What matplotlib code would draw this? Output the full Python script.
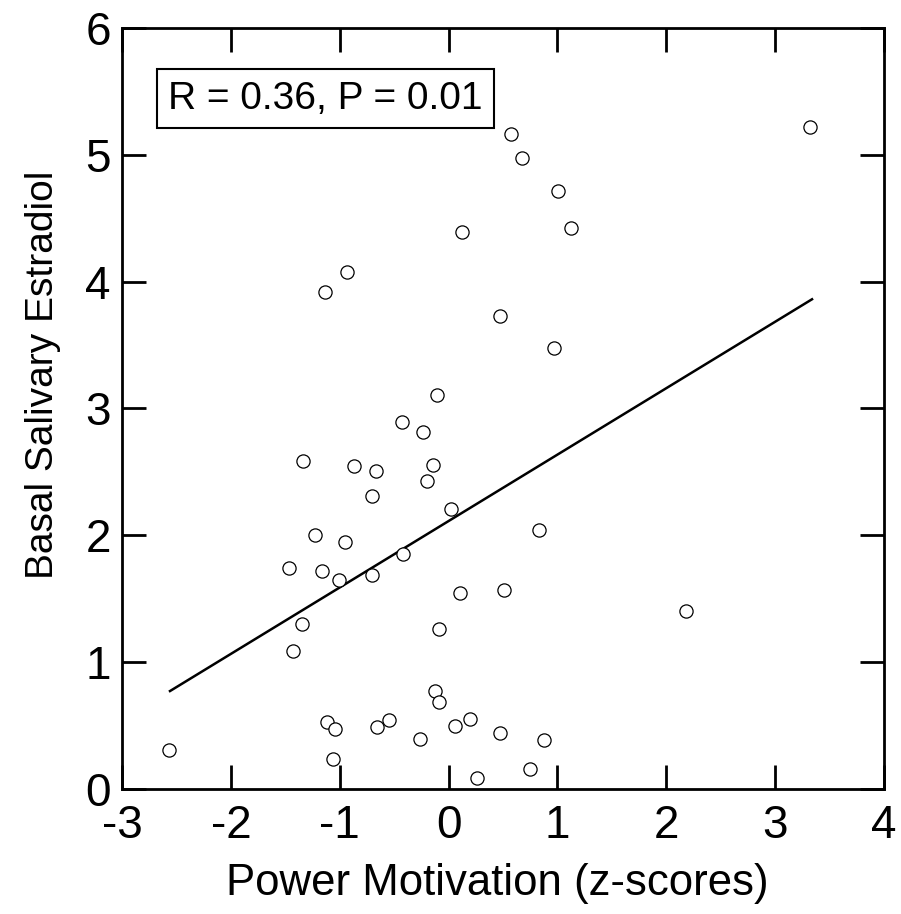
"""
Power motivation vs basal salivary estradiol scatter
"""
import matplotlib
matplotlib.use('Agg')
import matplotlib.pyplot as plt

plt.rcParams['font.family'] = ['Liberation Sans', 'DejaVu Sans']

# data
power_z = [0.127, -0.931, -1.133, 0.572, 0.679, 1.001, 1.123, 0.474, 0.970, 3.324,
           -0.104, -0.432, -0.233, -1.335, -0.872, -0.668, -0.145, -0.202, -0.701, 0.024,
           -1.225, -0.949, -0.420, -1.467, -1.166, -1.010, -0.704, 0.104, -0.089, -1.347,
           -1.427, 0.835, 0.511, 2.182, -2.566, -1.118, -1.044, -1.059, -0.656, -0.551,
           -0.129, -0.086, -0.266, 0.055, 0.193, 0.257, 0.477, 0.875, 0.747]
estradiol = [4.39, 4.077, 3.919, 5.161, 4.978, 4.718, 4.421, 3.727, 3.473, 5.219,
             3.110, 2.892, 2.811, 2.587, 2.548, 2.508, 2.558, 2.427, 2.309, 2.206,
             2.002, 1.946, 1.852, 1.744, 1.715, 1.649, 1.689, 1.547, 1.258, 1.300,
             1.090, 2.044, 1.572, 1.406, 0.305, 0.531, 0.473, 0.234, 0.489, 0.541,
             0.770, 0.683, 0.392, 0.496, 0.552, 0.084, 0.444, 0.384, 0.160]
fit_x = [-2.559, 3.339]
fit_y = [0.772, 3.861]
x_ticks = [-3, -2, -1, 0, 1, 2, 3, 4]
y_ticks = [0, 1, 2, 3, 4, 5, 6]
stats_label = 'R = 0.36, P = 0.01'

fig = plt.figure(figsize=(9.01, 9.14), dpi=100)
ax = fig.add_axes([0.1354, 0.1368, 0.8457, 0.8326])

ax.plot(fit_x, fit_y, color='black', lw=1.8, zorder=2)
ax.plot(power_z, estradiol, 'o', ms=9.5, mfc='white', mec='black', mew=0.9,
        linestyle='none', zorder=3)

ax.set_xlim(-3, 4)
ax.set_ylim(0, 6)
ax.set_xticks(x_ticks)
ax.set_xticklabels([str(v) for v in x_ticks])  # plain hyphen, like the original
ax.set_yticks(y_ticks)
ax.set_yticklabels([str(v) for v in y_ticks])
ax.tick_params(direction='in', length=17, width=2, labelsize=33,
               top=True, right=True)
ax.tick_params(axis='x', pad=11)
ax.tick_params(axis='y', pad=8)
for s in ax.spines.values():
    s.set_linewidth(2)

ax.set_xlabel('Power Motivation (z-scores)', fontsize=31.5)
ax.xaxis.set_label_coords(0.492, -0.097)
ax.xaxis.label.set_va('top')
ax.set_ylabel('Basal Salivary Estradiol', fontsize=28)
ax.yaxis.set_label_coords(-0.08, 0.544)

ax.text(0.267, 0.907, stats_label, transform=ax.transAxes, fontsize=28,
        ha='center', va='center',
        bbox=dict(boxstyle='square,pad=0.3', facecolor='white',
                  edgecolor='black', linewidth=1.5))

plt.savefig('out.png', dpi=100)
